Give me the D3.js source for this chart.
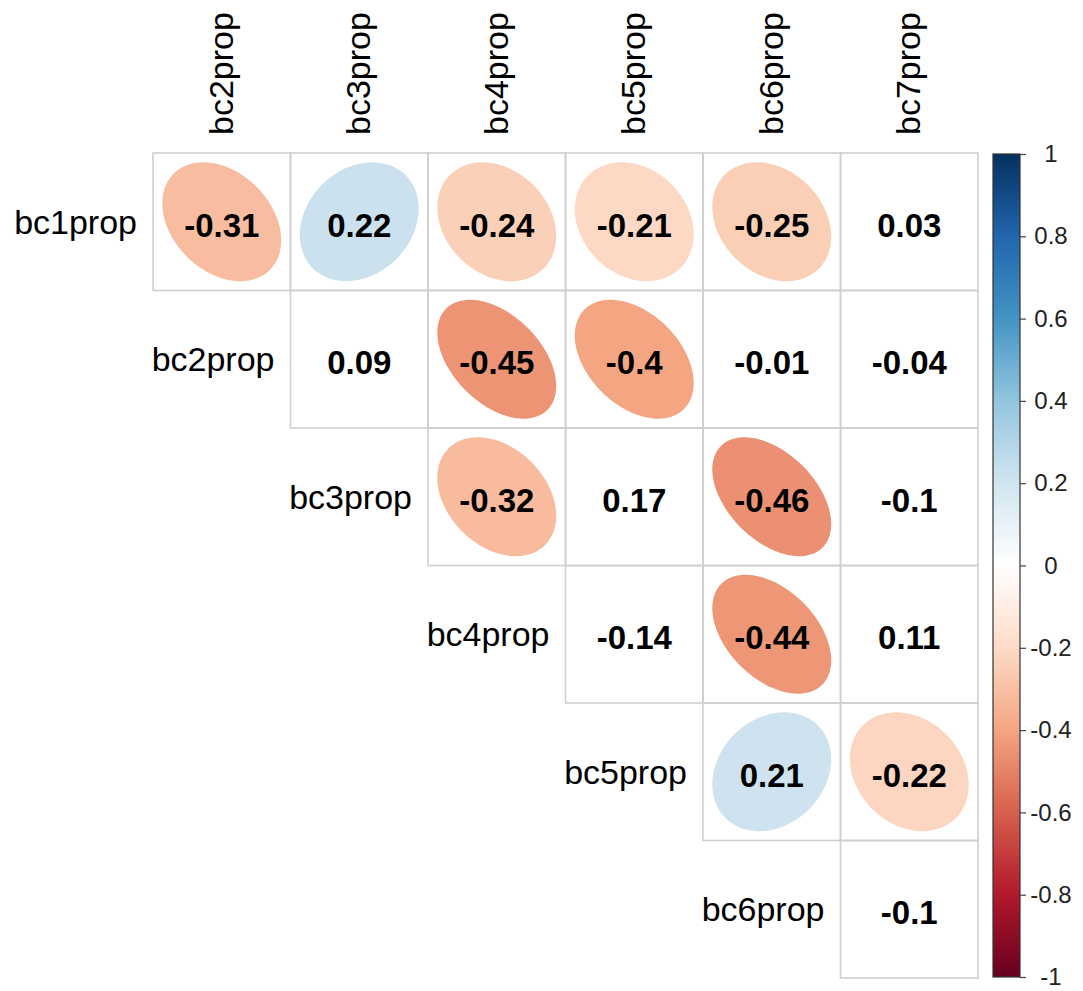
<!DOCTYPE html>
<html>
<head>
<meta charset="utf-8">
<script src="https://cdn.jsdelivr.net/npm/d3@7"></script>
<style>
  html, body { margin: 0; padding: 0; background: #ffffff; }
  svg { display: block; }
</style>
</head>
<body>
<div id="chart"></div>
<script>
// ---- data ----
const rowLabels = ["bc1prop", "bc2prop", "bc3prop", "bc4prop", "bc5prop", "bc6prop"];
const colLabels = ["bc2prop", "bc3prop", "bc4prop", "bc5prop", "bc6prop", "bc7prop"];
// upper-triangle correlations: row i contains columns i..5
const corrRows = [
  [-0.31, 0.22, -0.24, -0.21, -0.25, 0.03],
  [0.09, -0.45, -0.4, -0.01, -0.04],
  [-0.32, 0.17, -0.46, -0.1],
  [-0.14, -0.44, 0.11],
  [0.21, -0.22],
  [-0.1]
];
// whether the ellipse is drawn (significant) for each cell
const sigRows = [
  [true, true, true, true, true, false],
  [false, true, true, false, false],
  [true, false, true, false],
  [false, true, false],
  [true, true],
  [false]
];
const legendTicks = [-1, -0.8, -0.6, -0.4, -0.2, 0, 0.2, 0.4, 0.6, 0.8, 1];
const paletteColors = ["#67001F", "#B2182B", "#D6604D", "#F4A582", "#FDDBC7", "#FFFFFF",
                       "#D1E5F0", "#92C5DE", "#4393C3", "#2166AC", "#053061"];

// ---- layout ----
const W = 1083, H = 991;
const gridLeft = 153, gridTop = 153, gridRight = 978, gridBottom = 978;

const svg = d3.select("#chart").append("svg")
  .attr("width", W).attr("height", H)
  .style("font-family", "'Liberation Sans', Arial, sans-serif");
svg.append("rect").attr("width", W).attr("height", H).attr("fill", "#fff");

const x = d3.scaleBand().domain(colLabels.map((d, i) => i)).range([gridLeft, gridRight]);
const y = d3.scaleBand().domain(rowLabels.map((d, i) => i)).range([gridTop, gridBottom]);
const bw = x.bandwidth(), bh = y.bandwidth();

const color = d3.scaleLinear()
  .domain(d3.range(paletteColors.length).map(i => -1 + 2 * i / (paletteColors.length - 1)))
  .range(paletteColors)
  .interpolate(d3.interpolateRgb);

// flatten cells
const cells = [];
corrRows.forEach((row, i) => row.forEach((v, k) => {
  cells.push({ r: i, c: i + k, v: v, sig: sigRows[i][k] });
}));

// ellipse path (corrplot style)
function ellipsePath(rho, cx, cy, sx, sy) {
  const n = 100, d = Math.acos(rho);
  const pts = d3.range(n).map(t => {
    const k = 2 * Math.PI * t / n;
    return [cx + sx * Math.cos(k + d / 2) / 2, cy - sy * Math.cos(k - d / 2) / 2];
  });
  return d3.line().curve(d3.curveLinearClosed)(pts);
}

const g = svg.append("g");

// cell rectangles
g.selectAll("rect.cell").data(cells).join("rect")
  .attr("class", "cell")
  .attr("x", d => x(d.c)).attr("y", d => y(d.r))
  .attr("width", bw).attr("height", bh)
  .attr("fill", "none").attr("stroke", "#cfcfcf").attr("stroke-width", 1.6);

// ellipses
g.selectAll("path.ell").data(cells.filter(d => d.sig)).join("path")
  .attr("class", "ell")
  .attr("d", d => ellipsePath(d.v, x(d.c) + bw / 2, y(d.r) + bh / 2, bw * 0.865, bh * 0.865))
  .attr("fill", d => color(d.v));

// values
g.selectAll("text.val").data(cells).join("text")
  .attr("class", "val")
  .attr("x", d => x(d.c) + bw / 2)
  .attr("y", d => y(d.r) + bh / 2 + 15)
  .attr("text-anchor", "middle")
  .attr("font-size", 33).attr("font-weight", "bold").attr("fill", "#000")
  .text(d => String(d.v));

// row labels
svg.selectAll("text.rowlab").data(rowLabels).join("text")
  .attr("class", "rowlab")
  .attr("x", (d, i) => x(i) - 16)
  .attr("y", (d, i) => y(i) + bh / 2 + 12)
  .attr("text-anchor", "end")
  .attr("font-size", 34).attr("fill", "#000")
  .text(d => d);

// column labels
svg.selectAll("text.collab").data(colLabels).join("text")
  .attr("class", "collab")
  .attr("transform", (d, i) => `translate(${x(i) + bw / 2 + 11},${gridTop - 18}) rotate(-90)`)
  .attr("text-anchor", "start")
  .attr("font-size", 34).attr("fill", "#000")
  .text(d => d);

// ---- colour legend ----
const lgLeft = 993, lgRight = 1020;
const ly = d3.scaleLinear().domain([-1, 1]).range([977, 154]);
const defs = svg.append("defs");
const grad = defs.append("linearGradient").attr("id", "lg")
  .attr("x1", 0).attr("y1", 1).attr("x2", 0).attr("y2", 0);
grad.selectAll("stop").data(paletteColors).join("stop")
  .attr("offset", (d, i) => i / (paletteColors.length - 1))
  .attr("stop-color", d => d);

svg.append("rect")
  .attr("x", lgLeft).attr("y", ly(1))
  .attr("width", lgRight - lgLeft).attr("height", ly(-1) - ly(1))
  .attr("fill", "url(#lg)")
  .attr("stroke", "#333").attr("stroke-width", 1.2);

const axis = d3.axisRight(ly).tickValues(legendTicks).tickSize(6).tickPadding(0)
  .tickFormat(d => String(d));
const ag = svg.append("g").attr("transform", `translate(${lgRight},0)`).call(axis);
ag.select(".domain").remove();
ag.selectAll(".tick line").attr("stroke", "#444").attr("stroke-width", 1.2);
ag.selectAll(".tick text")
  .attr("x", 31).attr("text-anchor", "middle")
  .attr("font-size", 24).attr("fill", "#222")
  .attr("font-family", "'Liberation Sans', Arial, sans-serif");
</script>
</body>
</html>
